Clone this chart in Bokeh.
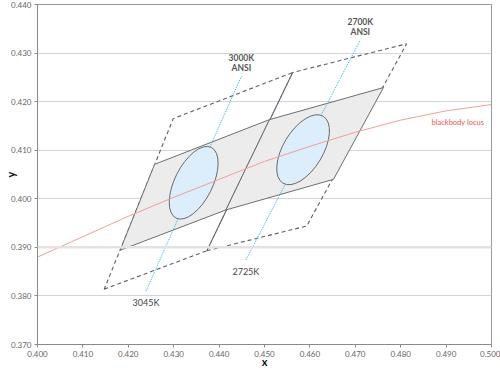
from bokeh.plotting import figure
from bokeh.models import FixedTicker, PrintfTickFormatter, Span
from bokeh.core.properties import value
from bokeh.embed import file_html
from bokeh.resources import INLINE

# ---- data (CIE 1931 x, y) ----
# ANSI C78.377 quadrangles (dashed)
ansi_names = ["3000K", "2700K"]
ansi_x = [[0.4147, 0.4373, 0.4562, 0.4299],
          [0.4373, 0.4593, 0.4813, 0.4562]]
ansi_y = [[0.3814, 0.3893, 0.4260, 0.4165],
          [0.3893, 0.3944, 0.4319, 0.4260]]

# narrower tolerance quadrangles (solid, grey fill)
tol_x = [[0.4182, 0.4415, 0.4511, 0.4258],
         [0.4415, 0.4652, 0.4762, 0.4511]]
tol_y = [[0.3894, 0.3977, 0.4163, 0.4071],
         [0.3977, 0.4040, 0.4229, 0.4163]]

# ellipses
ell_x = [0.4344, 0.4585]
ell_y = [0.4033, 0.4101]
ell_w = [0.0174, 0.0172]
ell_h = [0.0078, 0.0082]
ell_angle = [63.5, 59.0]

# isotherm lines (dotted blue)
iso_x = [[0.4239, 0.4449], [0.4459, 0.4711]]
iso_y = [[0.3810, 0.4252], [0.3874, 0.4327]]
iso_top_labels = ["3000K\nANSI", "2700K\nANSI"]
iso_bottom_labels = ["3045K", "2725K"]

# blackbody locus
bb_x = [0.400, 0.410, 0.420, 0.430, 0.440, 0.450, 0.460, 0.470, 0.480, 0.490, 0.500]
bb_y = [0.3880, 0.3922, 0.3964, 0.4003, 0.4040, 0.4077, 0.4108, 0.4137, 0.4162, 0.4181, 0.4194]
bb_label = "blackbody locus"
bb_label_pos = (0.4868, 0.4157)

x_ticks = [0.40, 0.41, 0.42, 0.43, 0.44, 0.45, 0.46, 0.47, 0.48, 0.49, 0.50]
y_ticks = [0.37, 0.38, 0.39, 0.40, 0.41, 0.42, 0.43, 0.44]
x_title = "x"
y_title = "y"

FONT = "Lato"

p = figure(width=500, height=373, x_range=(0.400, 0.500), y_range=(0.370, 0.440),
           output_backend="svg", toolbar_location=None,
           min_border_left=37, min_border_right=9, min_border_top=4, min_border_bottom=29)
p.background_fill_color = "white"
p.border_fill_color = "white"
p.outline_line_color = "#9a9a9a"
p.outline_line_width = 1

p.xgrid.visible = False
p.ygrid.grid_line_color = "#d4d4d4"
p.ygrid.ticker = FixedTicker(ticks=y_ticks)
p.add_layout(Span(location=y_ticks[2], dimension="width", line_color="#e2e2e2", line_width=2.5))

for ax, ticks in ((p.xaxis[0], x_ticks), (p.yaxis[0], y_ticks)):
    ax.ticker = FixedTicker(ticks=ticks)
    ax.formatter = PrintfTickFormatter(format="%.3f")
    ax.axis_line_color = "#8a8a8a"
    ax.major_tick_line_color = "#8a8a8a"
    ax.major_tick_out = 3
    ax.major_tick_in = 0
    ax.minor_tick_line_color = None
    ax.major_label_text_font = FONT
    ax.major_label_text_font_size = "8px"
    ax.major_label_text_color = "#666666"
    ax.major_label_standoff = 3
    ax.axis_label_text_font = FONT
    ax.axis_label_text_font_style = "bold"
    ax.axis_label_text_font_size = "11px"
    ax.axis_label_text_color = "#111111"
p.xaxis.axis_label = x_title
p.yaxis.axis_label = y_title
p.xaxis.axis_label_standoff = -5
p.yaxis.axis_label_standoff = -9

# dashed ANSI quadrangles
p.patches(ansi_x, ansi_y, fill_color=None, line_color="#56606c", line_width=1.1, line_dash="4 3")
# grey tolerance quadrangles
p.patches(tol_x, tol_y, fill_color="#ececec", line_color="#6e6e6e", line_width=1)
# isotherms
p.multi_line(iso_x, iso_y, line_color="#29b3e6", line_width=1, line_dash="1 1")
# ellipses
p.ellipse(ell_x, ell_y, width=ell_w, height=ell_h, angle=ell_angle, angle_units="deg",
          fill_color="#dcedfb", line_color="#6a6a6a", line_width=1)
# blackbody locus
p.line(bb_x, bb_y, line_color="#f29e96", line_width=1)

# labels
p.text([xs[1] for xs in iso_x], [ys[1] for ys in iso_y], text=iso_top_labels,
       text_font=value(FONT), text_font_style="bold", text_font_size="8.5px",
       text_color="#555555", text_align="center", text_baseline="bottom",
       text_line_height=1.0, y_offset=-3)
p.text([xs[0] for xs in iso_x], [ys[0] for ys in iso_y], text=iso_bottom_labels,
       text_font=value(FONT), text_font_size="9px",
       text_color="#444444", text_align="center", text_baseline="top", y_offset=6)
p.text([bb_label_pos[0]], [bb_label_pos[1]], text=[bb_label],
       text_font=value(FONT), text_font_size="7.5px", text_color="#e8564e",
       text_align="left", text_baseline="middle")

open("out.html", "w").write(file_html(p, INLINE))
